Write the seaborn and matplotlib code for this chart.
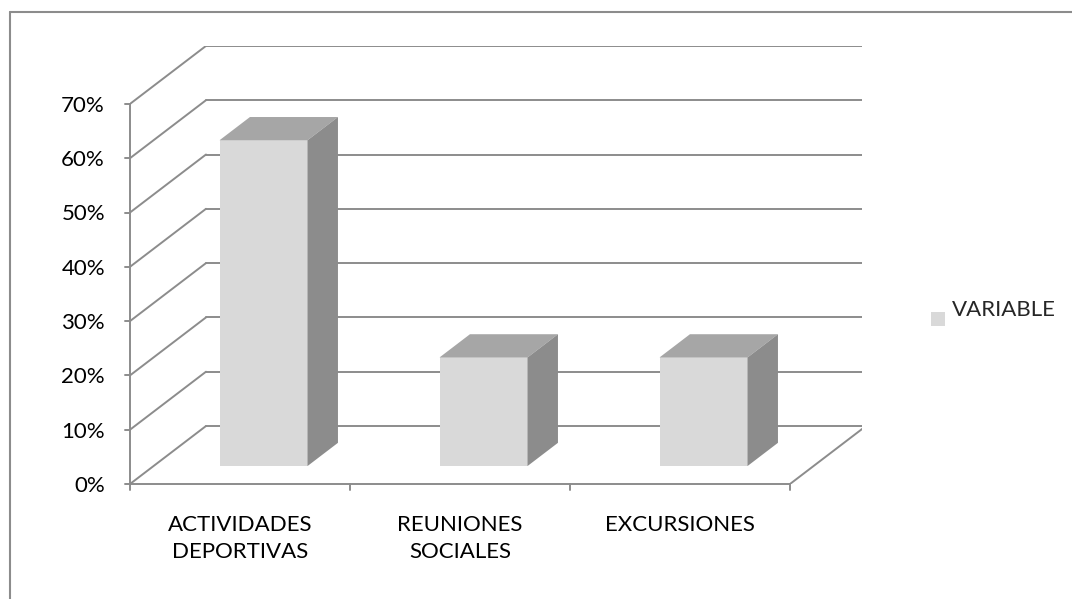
import matplotlib.pyplot as plt
from matplotlib.patches import Polygon
import seaborn as sns
import pandas as pd

categories = ["ACTIVIDADES\nDEPORTIVAS", "REUNIONES\nSOCIALES", "EXCURSIONES"]
values = [60, 20, 20]
y_ticks = [0, 10, 20, 30, 40, 50, 60, 70]
series_name = "VARIABLE"

front_col = "#d9d9d9"
top_col = "#a6a6a6"
side_col = "#8c8c8c"
line_col = "#8c8c8c"

sns.set_style("white")
plt.rcParams['font.family'] = ['Lato', 'DejaVu Sans']

W, H = 1072, 599
fig = plt.figure(figsize=(W / 100, H / 100), dpi=100)

# axes placed so that the front axis corner sits at (130, 484) px
px_unit_x = 220.0
px_unit_y = 5.43
x0, x1 = -0.5, -0.5 + (862 - 130) / px_unit_x
y0, y1 = 0, (484 - 46) / px_unit_y
ax = fig.add_axes([130 / W, (H - 484) / H, (862 - 130) / W, (484 - 46) / H])

# depth of the 3d box (back wall offset)
ddx = 76 / px_unit_x
ddy = 58 / px_unit_y

df = pd.DataFrame({"cat": categories, "val": values})
sns.barplot(data=df, x="cat", y="val", color=front_col, width=0.4,
            saturation=1, ax=ax, zorder=3, linewidth=0)

ax.set_xlim(x0, x1)
ax.set_ylim(y0, y1)

# back wall gridlines and left wall diagonals
for v in y_ticks:
    ax.plot([x0, x0 + ddx], [v, v + ddy], color=line_col, lw=1.4, zorder=1)
    ax.plot([x0 + ddx, x1], [v + ddy, v + ddy], color=line_col, lw=1.4, zorder=1)
# floor
n = len(categories)
ax.plot([x0, n - 0.5], [0, 0], color=line_col, lw=1.4, zorder=1, clip_on=False)
ax.plot([n - 0.5, n - 0.5 + ddx], [0, ddy], color=line_col, lw=1.4, zorder=1)
ax.plot([x0, x0], [0, 70], color=line_col, lw=1.4, zorder=1, clip_on=False)

# push bars into the box and add top/side faces
f0, f1 = 0.31, 0.71
for p in ax.patches[:n]:
    x = p.get_x() + f0 * ddx
    y = f0 * ddy
    w = p.get_width()
    h = p.get_height()
    p.set_x(x)
    p.set_y(y)
    dx = (f1 - f0) * ddx
    dy = (f1 - f0) * ddy
    ax.add_patch(Polygon([[x, y + h], [x + w, y + h], [x + w + dx, y + h + dy],
                          [x + dx, y + h + dy]], closed=True, fc=top_col, ec="none", zorder=3))
    ax.add_patch(Polygon([[x + w, y], [x + w + dx, y + dy], [x + w + dx, y + h + dy],
                          [x + w, y + h]], closed=True, fc=side_col, ec="none", zorder=3))

for s in ax.spines.values():
    s.set_visible(False)

ax.set_yticks(y_ticks)
ax.set_yticklabels([f"{v}%" for v in y_ticks])
ax.set_xticks(range(n))
ax.set_xticklabels(categories, linespacing=1.45)
ax.tick_params(axis="y", length=0, labelsize=16, pad=18, colors="black")
ax.tick_params(axis="x", length=0, labelsize=16, pad=22, colors="black")
for v in y_ticks:
    ax.plot([x0 - 5 / px_unit_x, x0], [v, v], color=line_col, lw=1.4, clip_on=False)
for b in range(n + 1):
    ax.plot([b - 0.5, b - 0.5], [0, -6 / px_unit_y], color=line_col, lw=1.4, clip_on=False)
ax.set_xlabel("")
ax.set_ylabel("")

# legend
fig.patches.append(plt.Rectangle((931 / W, (H - 326) / H), 14 / W, 14 / H,
                                 transform=fig.transFigure, fc=front_col, ec="none"))
fig.text(952 / W, (H - 310) / H, series_name, fontsize=16, va="center", ha="left")

# outer border
fig.add_artist(plt.Line2D([10 / W, 10 / W], [0, (H - 12) / H], color="#8c8c8c", lw=1.5,
                          transform=fig.transFigure))
fig.add_artist(plt.Line2D([10 / W, 1], [(H - 12) / H, (H - 12) / H], color="#8c8c8c", lw=1.5,
                          transform=fig.transFigure))

fig.savefig("out.png", dpi=100)
